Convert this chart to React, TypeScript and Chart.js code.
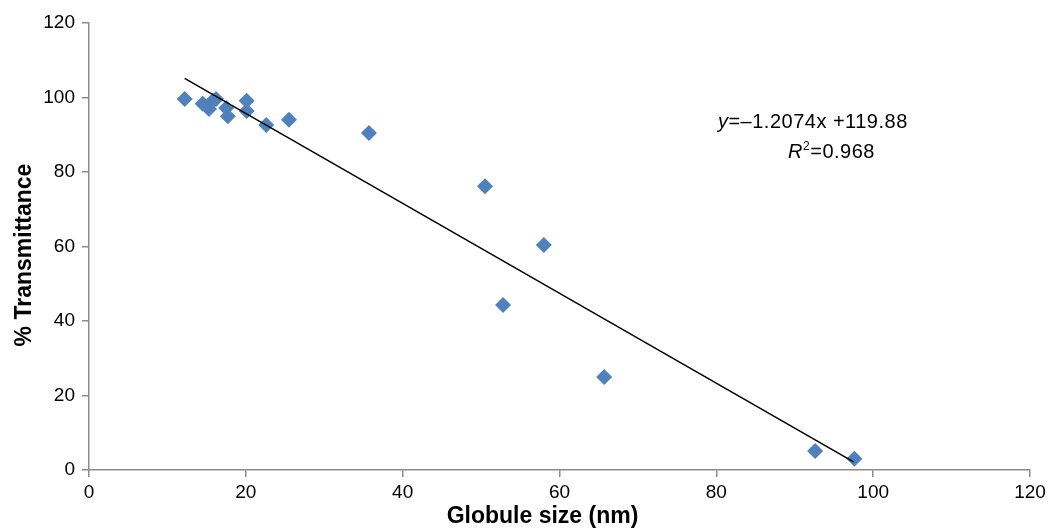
import React, { useEffect, useRef } from "react";
import { Chart, registerables } from "chart.js";

Chart.register(...registerables);

const globuleSize = [12.2, 14.5, 15.3, 15.8, 16.2, 17.5, 17.7, 20.1, 20.1, 22.6, 25.5, 35.7, 50.5, 52.8, 58.0, 65.7, 92.6, 97.6];
const transmittance = [99.6, 98.3, 96.9, 99.1, 99.6, 97.2, 95.0, 99.1, 96.4, 92.6, 94.0, 90.5, 76.2, 44.3, 60.4, 25.0, 5.1, 3.0];
const trendSlope = -1.2074;
const trendIntercept = 119.88;
const trendXRange = [12.2, 97.5];
const xTicks = [0, 20, 40, 60, 80, 100, 120];
const yTicks = [0, 20, 40, 60, 80, 100, 120];
const xTitle = "Globule size (nm)";
const yTitle = "% Transmittance";

const FONT = "'Liberation Sans', Arial, sans-serif";

const annotationPlugin = {
  id: "eqAnnot",
  afterDatasetsDraw(chart: any) {
    const { ctx, scales } = chart;
    const xs = scales.x;
    const ys = scales.y;
    ctx.save();
    ctx.fillStyle = "#000";
    ctx.textBaseline = "alphabetic";
    ctx.textAlign = "left";
    try { (ctx as any).letterSpacing = "0.5px"; } catch (e) {}
    let x = xs.getPixelForValue(80.2);
    let y = ys.getPixelForValue(91.9);
    ctx.font = `italic 20px ${FONT}`;
    ctx.fillText("y", x, y);
    x += ctx.measureText("y").width;
    ctx.font = `20px ${FONT}`;
    ctx.fillText("=\u20131.2074x +119.88", x, y);
    x = xs.getPixelForValue(89.15);
    y = ys.getPixelForValue(83.8);
    ctx.font = `italic 20px ${FONT}`;
    ctx.fillText("R", x, y);
    x += ctx.measureText("R").width;
    ctx.font = `12px ${FONT}`;
    ctx.fillText("2", x, y - 8);
    x += ctx.measureText("2").width;
    ctx.font = `20px ${FONT}`;
    ctx.fillText("=0.968", x, y);
    ctx.restore();
  },
  afterDraw(chart: any) {
    const { ctx } = chart;
    ctx.save();
    ctx.fillStyle = "#000";
    ctx.font = `bold 23px ${FONT}`;
    ctx.textAlign = "center";
    ctx.textBaseline = "middle";
    ctx.fillText(xTitle, 542.5, 517);
    ctx.translate(25, 255);
    ctx.rotate(-Math.PI / 2);
    ctx.fillText(yTitle, 0, 0);
    ctx.restore();
  },
};

export default function App() {
  const ref = useRef<HTMLCanvasElement | null>(null);
  useEffect(() => {
    if (!ref.current) return;
    const points = globuleSize.map((x, i) => ({ x, y: transmittance[i] }));
    const trend = trendXRange.map((x) => ({ x, y: trendSlope * x + trendIntercept }));
    const chart = new Chart(ref.current, {
      type: "scatter",
      data: {
        datasets: [
          {
            type: "line",
            data: trend,
            borderColor: "#000",
            borderWidth: 1.5,
            pointRadius: 0,
            fill: false,
          } as any,
          {
            data: points,
            pointStyle: "rectRot",
            pointRadius: 8,
            backgroundColor: "#4F81BD",
            borderColor: "#4A7EBB",
            borderWidth: 0,
          },
        ],
      },
      options: {
        animation: false,
        responsive: false,
        layout: { padding: { top: 23, right: 21, left: 0, bottom: 0 } },
        plugins: { legend: { display: false }, tooltip: { enabled: false } },
        scales: {
          x: {
            type: "linear",
            min: 0,
            max: 120,
            afterBuildTicks: (s: any) => { s.ticks = xTicks.map((v) => ({ value: v })); },
            afterFit: (s: any) => { s.height = 61; },
            border: { color: "#8c8c8c", width: 1.5 },
            grid: { drawOnChartArea: false, drawTicks: true, tickLength: 7, color: "#8c8c8c", lineWidth: 1.5 },
            ticks: { color: "#000", font: { family: FONT, size: 19 }, padding: 4, maxRotation: 0 },
            title: { display: false },
          },
          y: {
            type: "linear",
            min: 0,
            max: 120,
            afterBuildTicks: (s: any) => { s.ticks = yTicks.map((v) => ({ value: v })); },
            afterFit: (s: any) => { s.width = 89; },
            border: { color: "#8c8c8c", width: 1.5 },
            grid: { drawOnChartArea: false, drawTicks: true, tickLength: 7, color: "#8c8c8c", lineWidth: 1.5 },
            ticks: { color: "#000", font: { family: FONT, size: 19 }, padding: 7 },
            title: { display: false },
          },
        },
      },
      plugins: [annotationPlugin],
    } as any);
    return () => chart.destroy();
  }, []);
  return (
    <div style={{ position: "fixed", left: 0, top: 0, width: 1051, height: 531, background: "#fff" }}>
      <canvas ref={ref} width={1051} height={531} style={{ display: "block" }} />
    </div>
  );
}
